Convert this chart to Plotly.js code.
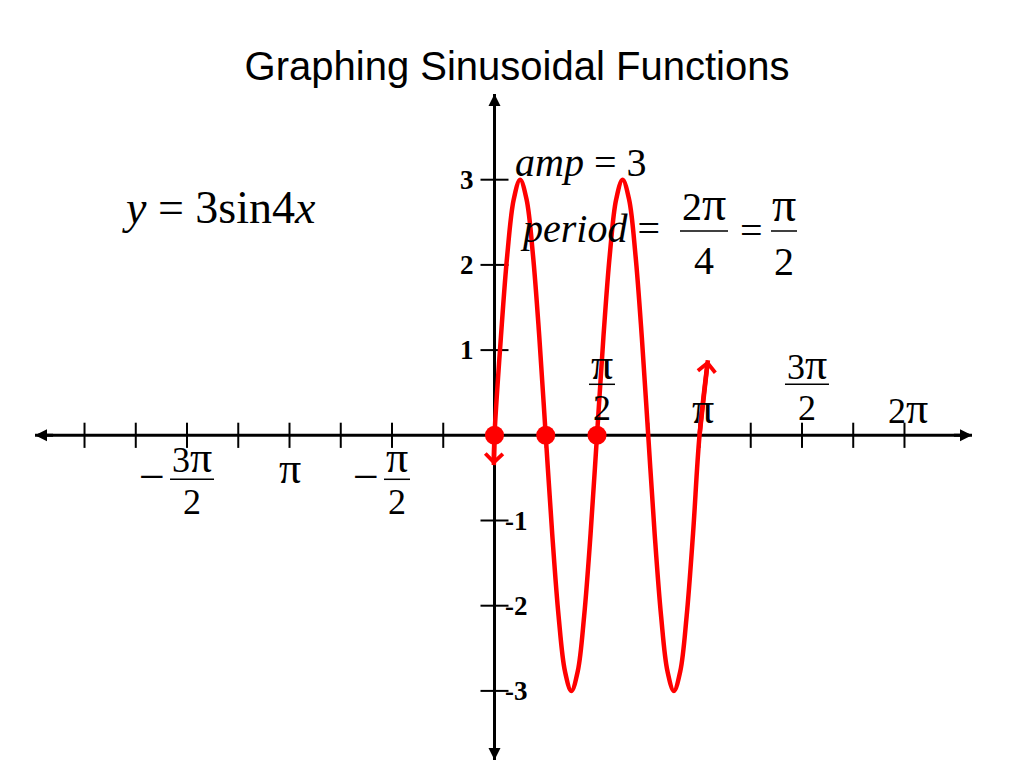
<!DOCTYPE html>
<html>
<head>
<meta charset="utf-8">
<script src="https://cdn.plot.ly/plotly-3.0.1.min.js"></script>
<style>html,body{margin:0;padding:0;background:#fff;}#chart{width:1024px;height:768px;}</style>
</head>
<body>
<div id="chart"></div>
<script>
// ---------- data ----------
// curve y = 3 sin 4x (x in radians)
const curveX = [-0.01, 0, 0.098, 0.196, 0.295, 0.393, 0.491, 0.589, 0.687, 0.785, 0.884, 0.982, 1.080, 1.178, 1.276, 1.374, 1.473, 1.571, 1.669, 1.767, 1.865, 1.963, 2.062, 2.160, 2.258, 2.356, 2.454, 2.553, 2.651, 2.749, 2.847, 2.945, 3.043, 3.142, 3.27];
const curveY = [-0.35, 0, 1.15, 2.12, 2.77, 3, 2.77, 2.12, 1.15, 0, -1.15, -2.12, -2.77, -3, -2.77, -2.12, -1.15, 0, 1.15, 2.12, 2.77, 3, 2.77, 2.12, 1.15, 0, -1.15, -2.12, -2.77, -3, -2.77, -2.12, -1.15, 0, 0.88];

// highlighted zeros
const dotX = [0, 0.785, 1.571];
const dotY = [0, 0, 0];

// x tick marks: multiples of pi/4
const xTickMultiples = [-8, -7, -6, -5, -4, -3, -2, -1, 1, 2, 3, 4, 5, 6, 7, 8];
// x tick labels
const xLabelMultiples = [-6, -4, -2, 2, 4, 6, 8];
const xLabelNum = ['3π', 'π', 'π', 'π', 'π', '3π', '2π'];
const xLabelDen = ['2', '', '2', '2', '', '2', ''];
const xLabelMinus = [true, false, true, false, false, false, false];

// y ticks
const yTickVals = [-3, -2, -1, 1, 2, 3];
const yTickText = ['-3', '-2', '-1', '1', '2', '3'];

// axis extents (data units)
const xAxisEnds = [-7.042, 7.318];
const yAxisEnds = [-3.811, 4.006];

// ---------- styles ----------
const SERIF = 'Liberation Serif, Times New Roman, serif';
const SANS = 'Liberation Sans, Arial, sans-serif';
const RED = '#ff0000';
const Q = Math.PI / 4;
function piText(s, size) { return s.replace(/π/g, '<span style="font-size:' + size + 'px">π</span>'); }

const xTickVals = xTickMultiples.map(m => m * Q);
const xLabelVals = xLabelMultiples.map(m => m * Q);

const traces = [
  // x axis line
  {x: xAxisEnds, y: [0, 0], mode: 'lines', line: {color: 'black', width: 3}, hoverinfo: 'skip'},
  // y axis line
  {x: [0, 0], y: yAxisEnds, mode: 'lines', line: {color: 'black', width: 3}, hoverinfo: 'skip'},
  // x ticks
  {x: xTickVals, y: xTickVals.map(() => 0), mode: 'markers',
   marker: {symbol: 'line-ns', size: 18, line: {color: 'black', width: 2}}, hoverinfo: 'skip'},
  // y ticks
  {x: yTickVals.map(() => 0), y: yTickVals, mode: 'markers',
   marker: {symbol: 'line-ew', size: 20, line: {color: 'black', width: 2}}, hoverinfo: 'skip'},
  // curve
  {x: curveX, y: curveY, mode: 'lines', line: {color: RED, width: 4.5, shape: 'spline', smoothing: 1}, hoverinfo: 'skip'},
  // dots
  {x: dotX, y: dotY, mode: 'markers', marker: {color: RED, size: 19}, hoverinfo: 'skip'}
];

const annotations = [];
const shapes = [];

// arrowheads
function arrowHead(x, y, ax, ay, color, head, width, size) {
  annotations.push({x: x, y: y, ax: ax, ay: ay, xref: 'x', yref: 'y', axref: 'x', ayref: 'y',
    text: '', showarrow: true, arrowhead: head, arrowwidth: width, arrowsize: size, arrowcolor: color, standoff: 0});
}
arrowHead(xAxisEnds[1], 0, xAxisEnds[1] - 0.3, 0, 'black', 2, 3, 0.8);
arrowHead(xAxisEnds[0], 0, xAxisEnds[0] + 0.3, 0, 'black', 2, 3, 0.8);
arrowHead(0, yAxisEnds[1], 0, yAxisEnds[1] - 0.25, 'black', 2, 3, 0.8);
arrowHead(0, yAxisEnds[0], 0, yAxisEnds[0] + 0.25, 'black', 2, 3, 0.8);
// curve end arrows
const n = curveX.length;
arrowHead(curveX[0], curveY[0], curveX[1], curveY[1], RED, 4, 4.5, 0.75);
arrowHead(curveX[n - 1], curveY[n - 1], curveX[n - 2], curveY[n - 2], RED, 4, 4.5, 0.75);

// y tick labels
yTickVals.forEach((v, i) => {
  annotations.push({x: 0, y: v, xref: 'x', yref: 'y', text: '<b>' + yTickText[i] + '</b>', showarrow: false,
    xshift: v > 0 ? -28 : 22, xanchor: 'center', yanchor: 'middle',
    font: {family: SERIF, size: 27, color: 'black', weight: 'bold'}});
});

// x tick labels (stacked fractions)
const LF = 36;
const PIF = 44;
xLabelVals.forEach((v, i) => {
  const pos = v > 0;
  const font = {family: SERIF, size: LF, color: 'black'};
  if (xLabelDen[i]) {
    const cx = 5;
    const wide = xLabelNum[i].length > 1;
    const w = wide ? 44 : 26;
    annotations.push({x: v, y: 0, xref: 'x', yref: 'y', text: piText(xLabelNum[i], PIF), showarrow: false,
      xshift: cx, yshift: pos ? 71 : -22, font: font});
    annotations.push({x: v, y: 0, xref: 'x', yref: 'y', text: xLabelDen[i], showarrow: false,
      xshift: cx, yshift: pos ? 27 : -67, font: font});
    const by = pos ? 51 : -44;
    shapes.push({type: 'line', xref: 'x', yref: 'y', xsizemode: 'pixel', ysizemode: 'pixel',
      xanchor: v, yanchor: 0, x0: cx - w / 2, x1: cx + w / 2, y0: by, y1: by,
      line: {color: 'black', width: 1.5}});
    if (xLabelMinus[i]) {
      annotations.push({x: v, y: 0, xref: 'x', yref: 'y', text: '−', showarrow: false,
        xshift: wide ? -35 : -26, yshift: -41, font: {family: SERIF, size: 46, color: 'black'}});
    }
  } else {
    annotations.push({x: v, y: 0, xref: 'x', yref: 'y', text: piText(xLabelNum[i], PIF), showarrow: false,
      xshift: pos ? 4 : 0, yshift: pos ? 27 : -33, font: font});
  }
});

// text blocks (paper coords from pixel positions)
function px(x) { return x / 1024; }
function py(y) { return 1 - y / 768; }
const TF = {family: SERIF, size: 40, color: 'black'};
function txt(x, y, t, f) {
  annotations.push({x: px(x), y: py(y), xref: 'paper', yref: 'paper', text: t, showarrow: false,
    xanchor: 'center', yanchor: 'middle', font: f || TF});
}
txt(219, 208, '<i>y</i> = 3sin4<i>x</i>', {family: SERIF, size: 46, color: 'black'});
txt(580, 162, '<i>amp</i> = 3');
txt(590, 228, '<i>period</i> =');
txt(704, 203, piText('2π', 48));
txt(704, 260, '4');
txt(751, 230, '=');
txt(784, 204, piText('π', 48));
txt(784, 262, '2');
shapes.push({type: 'line', xref: 'paper', yref: 'paper', x0: px(680), x1: px(728), y0: py(231), y1: py(231), line: {color: 'black', width: 1.5}});
shapes.push({type: 'line', xref: 'paper', yref: 'paper', x0: px(771), x1: px(797), y0: py(231), y1: py(231), line: {color: 'black', width: 1.5}});

const layout = {
  width: 1024, height: 768,
  margin: {l: 0, r: 0, t: 0, b: 0},
  paper_bgcolor: 'white', plot_bgcolor: 'white',
  showlegend: false,
  title: {text: 'Graphing Sinusoidal Functions', font: {family: SANS, size: 40, color: 'black'},
    x: 517 / 1024, xanchor: 'center', y: 1 - 66 / 768, yanchor: 'middle', yref: 'container'},
  xaxis: {range: [-494.5 / 65.25, 529.5 / 65.25], visible: false, fixedrange: true},
  yaxis: {range: [-(768 - 435.3) / 85.2, 435.3 / 85.2], visible: false, fixedrange: true},
  annotations: annotations,
  shapes: shapes
};

Plotly.newPlot('chart', traces, layout, {staticPlot: true, displayModeBar: false});
</script>
</body>
</html>
